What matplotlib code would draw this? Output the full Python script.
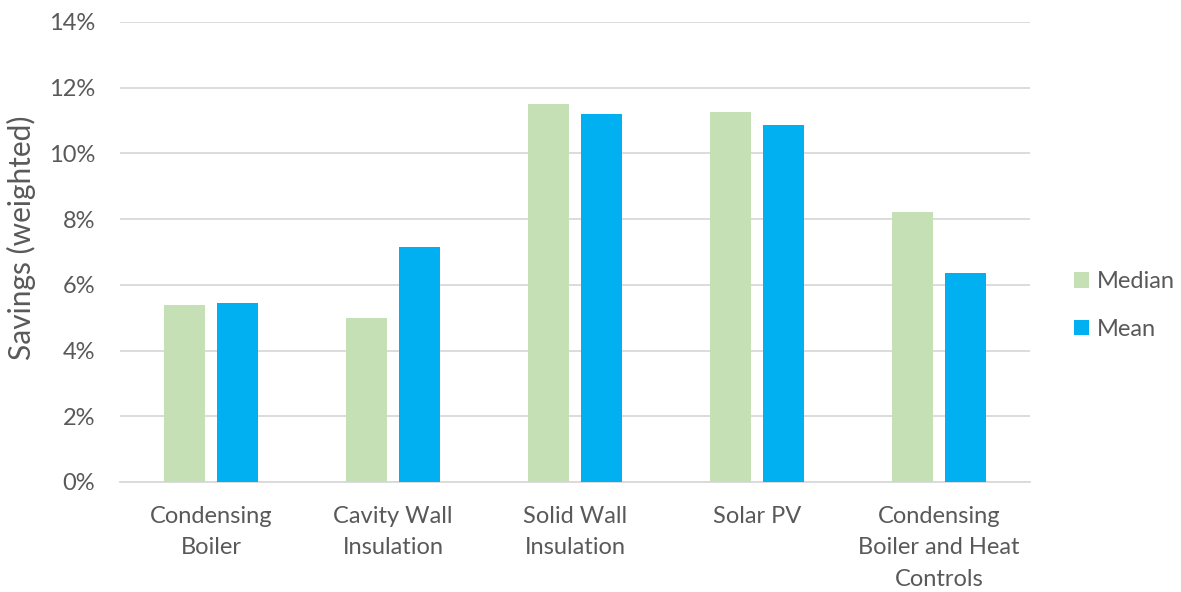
import numpy as np
import matplotlib.pyplot as plt
from matplotlib.ticker import FuncFormatter

# Économies pondérées par mesure
categories = ['Condensing\nBoiler', 'Cavity Wall\nInsulation', 'Solid Wall\nInsulation',
              'Solar PV', 'Condensing\nBoiler and Heat\nControls']
median = [5.38, 5.00, 11.50, 11.25, 8.21]
mean = [5.44, 7.14, 11.21, 10.86, 6.37]

plt.rcParams['font.family'] = ['Lato', 'DejaVu Sans']
gris = '#595959'

fig = plt.figure(figsize=(11.81, 5.92), dpi=100)
ax = fig.add_axes([120 / 1181, 1 - 482 / 592, 910 / 1181, 460 / 592])

x = np.arange(len(categories))
largeur = 0.225
decalage = 0.143
ax.bar(x - decalage, median, largeur, color='#C5E0B4', label='Median', zorder=3)
ax.bar(x + decalage, mean, largeur, color='#00B0F0', label='Mean', zorder=3)

ax.set_xlim(-0.5, len(categories) - 0.5)
ax.set_ylim(0, 14)
ax.set_yticks(np.arange(0, 15, 2))
ax.yaxis.set_major_formatter(FuncFormatter(lambda v, p: f'{v:.0f}%'))
ax.set_xticks(x)
ax.set_xticklabels(categories, linespacing=1.62)

ax.grid(axis='y', color='#D9D9D9', linewidth=1.3, zorder=0)
for s in ['top', 'right', 'left']:
    ax.spines[s].set_visible(False)
ax.spines['bottom'].set_color('#D9D9D9')
ax.spines['bottom'].set_linewidth(1.3)
ax.tick_params(axis='both', length=0, labelsize=17, colors=gris)
ax.tick_params(axis='y', pad=18)
ax.tick_params(axis='x', pad=17)

ax.set_ylabel('Savings (weighted)', fontsize=21.5, color=gris)
ax.yaxis.set_label_coords(-0.092, 0.53)

leg = fig.legend(loc='upper left', bbox_to_anchor=(1074 / 1181, 1 - 271 / 592), frameon=False,
                 fontsize=17, handlelength=0.64, handleheight=0.64,
                 labelspacing=1.13, handletextpad=0.34, borderpad=0, borderaxespad=0)
for t in leg.get_texts():
    t.set_color(gris)

fig.savefig('out.png', dpi=100)
